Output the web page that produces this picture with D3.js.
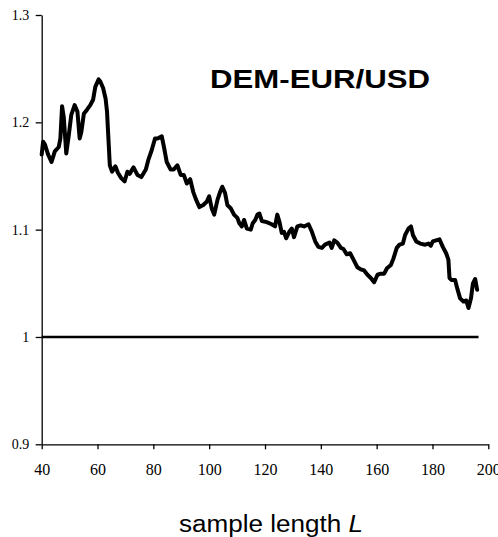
<!DOCTYPE html>
<html>
<head>
<meta charset="utf-8">
<script src="https://cdn.jsdelivr.net/npm/d3@7"></script>
<style>
  html, body { margin: 0; padding: 0; background: #fff; }
  svg { display: block; }
</style>
</head>
<body>
<svg id="chart" width="498" height="537"></svg>
<script>
// ---- data ----
const sampleLength = [
  40.0, 40.5, 41.2, 42.3, 43.5, 44.7, 46.1, 46.7, 47.3, 47.9, 48.8, 49.7, 50.6, 51.8, 52.8, 53.6,
  54.2, 55.1, 56.3, 57.4, 58.4, 59.2, 60.4, 61.0, 62.0, 62.9, 63.4, 63.9, 64.4, 65.2, 66.4, 67.3,
  68.5, 69.7, 70.7, 71.5, 72.9, 74.3, 75.7, 77.3, 78.2, 79.4, 80.6, 81.5, 83.0, 83.8, 84.8, 86.2,
  87.3, 88.6, 89.8, 90.9, 92.0, 93.2, 94.3, 95.3, 96.5, 97.9, 99.1, 100.0, 100.9, 101.8, 103.0, 103.9,
  104.7, 105.7, 106.5, 107.7, 108.9, 110.1, 110.8, 111.7, 112.5, 113.5, 114.9, 115.6, 116.5, 117.3, 118.0, 118.9,
  120.6, 122.4, 123.6, 124.4, 125.2, 126.0, 126.8, 127.6, 128.7, 129.6, 130.4, 131.6, 132.8, 134.0, 135.6, 136.8,
  138.0, 139.1, 140.4, 141.5, 143.1, 143.9, 144.8, 145.9, 147.2, 148.1, 149.3, 150.5, 151.7, 153.1, 154.3, 155.5,
  156.7, 157.9, 159.1, 160.3, 161.5, 162.7, 163.7, 165.1, 166.0, 167.2, 168.2, 169.4, 170.2, 171.4, 172.3, 173.0,
  174.2, 175.6, 177.4, 178.6, 179.4, 180.1, 181.3, 182.5, 183.7, 184.9, 185.7, 186.1, 186.9, 188.1, 188.9, 189.9,
  191.1, 192.1, 192.9, 193.8, 194.5, 195.3, 196.0
];
const ratioValues = [
  1.170, 1.182, 1.179, 1.170, 1.163, 1.173, 1.177, 1.185, 1.215, 1.205, 1.171, 1.188, 1.207, 1.216, 1.210, 1.185,
  1.191, 1.208, 1.212, 1.216, 1.221, 1.233, 1.240, 1.238, 1.232, 1.222, 1.210, 1.185, 1.160, 1.154, 1.159, 1.153,
  1.148, 1.145, 1.154, 1.152, 1.158, 1.151, 1.149, 1.156, 1.165, 1.174, 1.185, 1.185, 1.187, 1.177, 1.163, 1.156,
  1.156, 1.160, 1.151, 1.151, 1.143, 1.147, 1.135, 1.128, 1.121, 1.123, 1.126, 1.131, 1.120, 1.114, 1.128, 1.135,
  1.140, 1.134, 1.123, 1.120, 1.114, 1.111, 1.106, 1.103, 1.109, 1.101, 1.100, 1.106, 1.109, 1.114, 1.115, 1.108,
  1.107, 1.105, 1.103, 1.114, 1.107, 1.097, 1.098, 1.092, 1.098, 1.101, 1.093, 1.103, 1.104, 1.103, 1.105, 1.098,
  1.089, 1.084, 1.083, 1.086, 1.088, 1.083, 1.090, 1.088, 1.083, 1.082, 1.077, 1.078, 1.072, 1.065, 1.063, 1.062,
  1.058, 1.055, 1.051, 1.058, 1.059, 1.059, 1.064, 1.067, 1.073, 1.083, 1.086, 1.087, 1.095, 1.101, 1.103, 1.095,
  1.089, 1.087, 1.086, 1.087, 1.085, 1.089, 1.090, 1.091, 1.084, 1.078, 1.072, 1.055, 1.053, 1.053, 1.045, 1.036,
  1.033, 1.034, 1.027, 1.036, 1.050, 1.054, 1.044
];
const referenceLevel = 1.0;
const referenceEnd = 196.5;
const xTicks = [40, 60, 80, 100, 120, 140, 160, 180, 200];
const yTicks = [0.9, 1.0, 1.1, 1.2, 1.3];
const yTickLabels = ["0.9", "1", "1.1", "1.2", "1.3"];
const titleText = "DEM-EUR/USD";
const xLabelText = "sample length ";
const xLabelVar = "L";

// ---- layout ----
const svg = d3.select("#chart");
const x = d3.scaleLinear().domain([40, 200]).range([41.7, 488.3]);
const y = d3.scaleLinear().domain([0.9, 1.3]).range([444.3, 15]);

// y axis
const yAxis = svg.append("g")
  .attr("transform", `translate(${x(40)},0)`)
  .call(d3.axisLeft(y).tickValues(yTicks).tickSize(6).tickSizeOuter(0).tickPadding(6.5)
    .tickFormat((d, i) => yTickLabels[i]));
yAxis.selectAll("text").attr("font-family", "'Liberation Serif', 'Times New Roman', serif")
  .attr("font-size", 14).attr("fill", "#000");

// x axis
const xAxis = svg.append("g")
  .attr("transform", `translate(0,${y(0.9)})`)
  .call(d3.axisBottom(x).tickValues(xTicks).tickSize(5).tickSizeOuter(0).tickPadding(14)
    .tickFormat(d3.format("d")));
xAxis.selectAll("text").attr("font-family", "'Liberation Serif', 'Times New Roman', serif")
  .attr("font-size", 16).attr("fill", "#000");

svg.selectAll(".domain, .tick line").attr("stroke", "#000").attr("stroke-width", 1.3);
svg.selectAll(".domain").attr("fill", "none");

// reference line at 1
svg.append("line")
  .attr("x1", x(40)).attr("x2", x(referenceEnd))
  .attr("y1", y(referenceLevel)).attr("y2", y(referenceLevel))
  .attr("stroke", "#000").attr("stroke-width", 2.6);

// data line
const pts = sampleLength.map((d, i) => [d, ratioValues[i]]);
svg.append("path")
  .datum(pts)
  .attr("fill", "none")
  .attr("stroke", "#000")
  .attr("stroke-width", 4)
  .attr("stroke-linejoin", "round")
  .attr("stroke-linecap", "round")
  .attr("d", d3.line().x(d => x(d[0])).y(d => y(d[1])));

// title
svg.append("text")
  .attr("x", 210).attr("y", 88)
  .attr("font-family", "'Liberation Sans', Arial, sans-serif")
  .attr("font-weight", "bold")
  .attr("font-size", 26.5)
  .attr("textLength", 220)
  .attr("lengthAdjust", "spacingAndGlyphs")
  .attr("fill", "#000")
  .text(titleText);

// x label
const xl = svg.append("text")
  .attr("x", 179).attr("y", 532)
  .attr("font-family", "'Liberation Sans', Arial, sans-serif")
  .attr("font-size", 23.5)
  .attr("textLength", 184)
  .attr("lengthAdjust", "spacingAndGlyphs")
  .attr("fill", "#000");
xl.append("tspan").text(xLabelText);
xl.append("tspan").attr("font-style", "italic").text(xLabelVar);
</script>
</body>
</html>
